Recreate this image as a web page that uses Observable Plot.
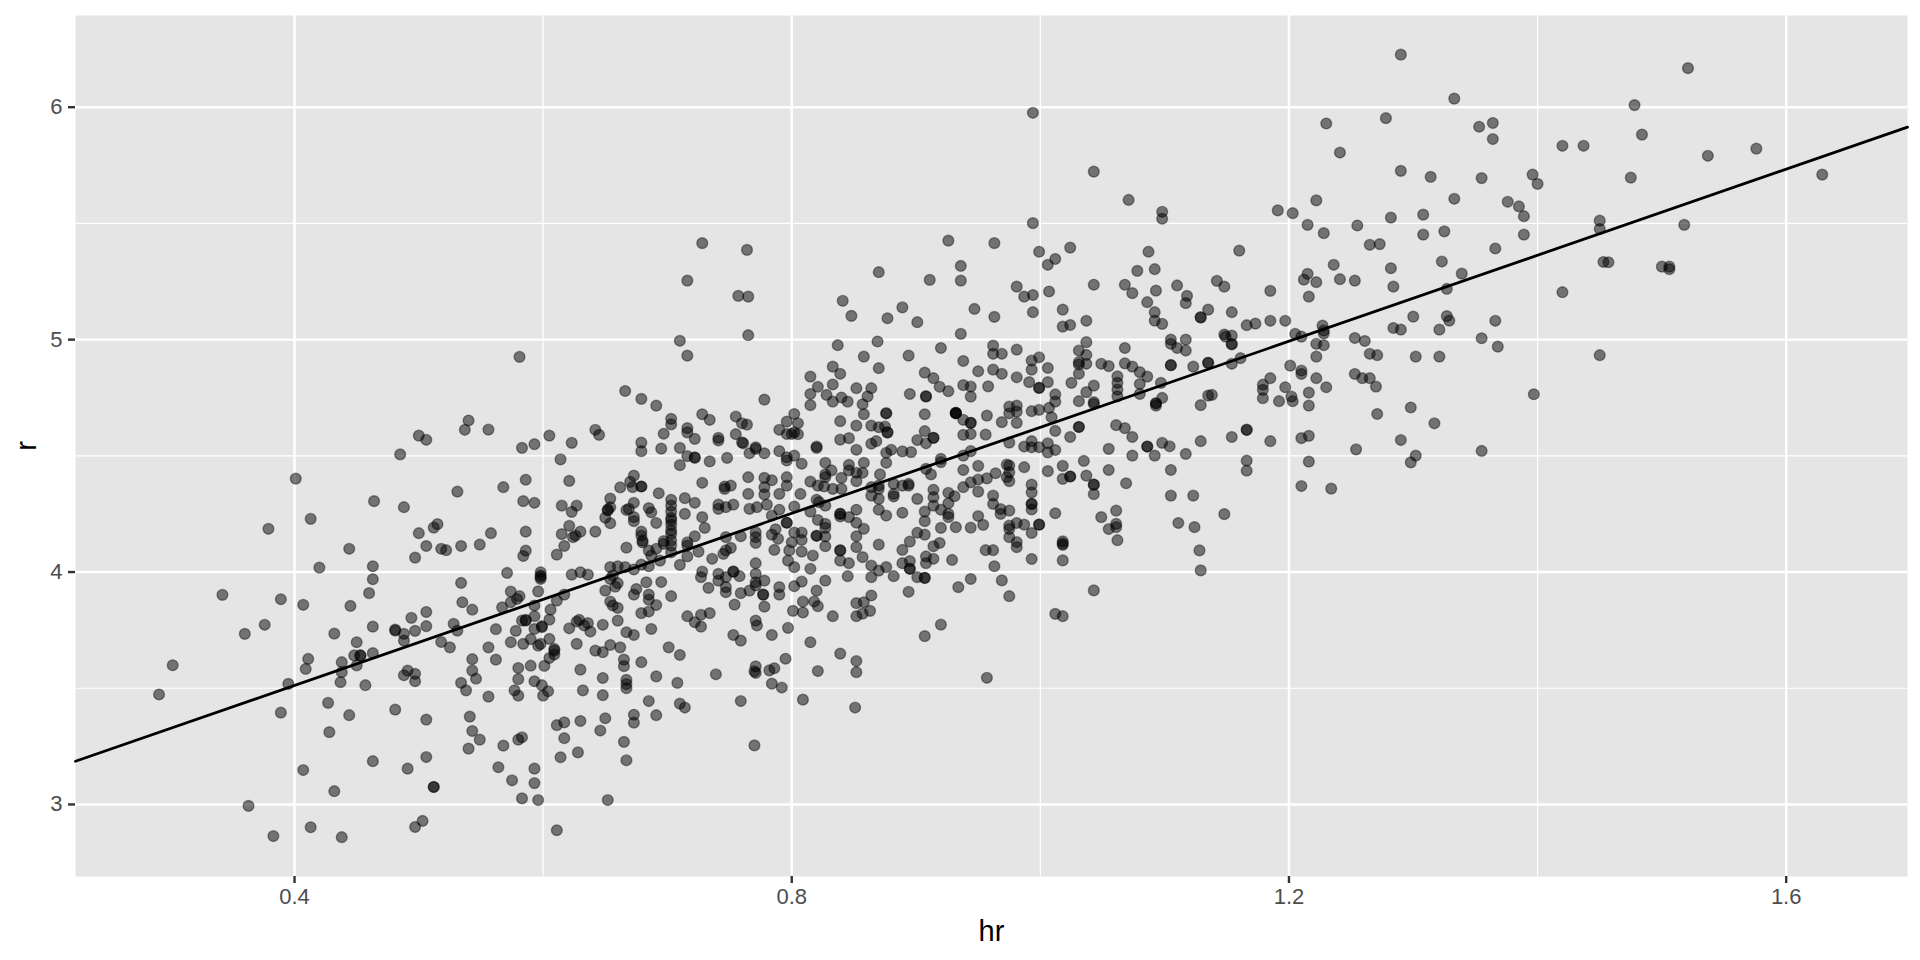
<!DOCTYPE html>
<html><head><meta charset="utf-8">
<script src="https://cdn.jsdelivr.net/npm/d3@7"></script>
<script src="https://cdn.jsdelivr.net/npm/@observablehq/plot@0.6"></script>
<style>html,body{margin:0;padding:0;background:#fff}svg{display:block}</style>
</head><body><div id="chart"></div>
<script>
const hrA=[.401,.413,.379,.444,.420,.464,.463,.463,.460,.342,.389,.407,.445,.463,.376,.360,.432,.450,.448,.453,.453,.463,.411,.450,.438,.409,.438,.302,.395,.437,.457,.291,.427,.389,.444,.428,.463,.407,.432,.363,.413,.383,.438];
const rA=[4.402,4.229,4.186,4.100,4.019,4.305,4.025,3.969,3.909,3.902,3.883,3.859,3.854,3.765,3.773,3.734,3.735,3.698,3.641,3.641,3.641,3.651,3.626,3.598,3.612,3.583,3.569,3.599,3.519,3.526,3.513,3.473,3.437,3.395,3.384,3.311,3.186,3.148,3.057,2.994,2.902,2.864,2.859];

const hrB=[.581,.666,.679,.691,.703,.703,.697,.679,.679,.695,.642,.645,.623,.605,.593,.583,.540,.537,.556,.500,.506,.485,.614,.586,.621,.568,.531,.673,.670,.662,.672,.679,.679,.693,.654,.488,.584,.593,.615,.627,.623,.654,.652,.652,.650,.654,.673,.667,.669,.685,.687,.673,.673,.691];
const rB=[4.926,4.779,4.745,4.716,4.659,4.635,4.595,4.557,4.520,4.531,4.612,4.590,4.556,4.587,4.550,4.534,4.652,4.612,4.613,4.587,4.569,4.506,4.485,4.397,4.392,4.365,4.346,4.415,4.388,4.364,4.365,4.368,4.368,4.339,4.316,4.279,4.305,4.298,4.286,4.286,4.259,4.279,4.269,4.265,4.234,4.210,4.298,4.267,4.272,4.275,4.257,4.236,4.219,4.211];

const hrC=[.515,.512,.500,.558,.586,.621,.615,.630,.624,.626,.642,.679,.679,.680,.680,.506,.518,.522,.534,.549,.586,.584,.497,.617,.611,.667,.685,.691,.687,.697,.694,.571,.598,.598,.598,.598,.623,.630,.636,.654,.660,.666,.673,.679,.685,.656,.654,.660,.658,.650,.683,.695,.675,.673,.685,.685,.703,.654,.656,.660,.691,.685,.679,.660,.687,.667,.673,.701];
const rC=[4.206,4.191,4.167,4.167,4.174,4.199,4.163,4.174,4.150,4.157,4.174,4.174,4.157,4.135,4.127,4.112,4.100,4.094,4.112,4.118,4.092,4.069,4.062,4.112,4.075,4.105,4.092,4.100,4.071,4.133,4.049,3.996,3.999,3.985,3.978,3.970,3.989,3.999,3.989,4.021,4.025,4.021,4.011,4.032,4.025,3.985,3.970,3.952,3.937,3.920,3.956,3.957,3.927,3.903,3.903,3.881,3.896,3.873,3.856,3.846,3.858,3.830,3.823,3.791,3.755,3.741,3.729,3.676];

const hrD=[.534,.574,.596,.581,.579,.574,.617,.611,.535,.543,.506,.494,.567,.593,.606,.593,.605,.583,.586,.586,.599,.599,.593,.528,.506,.481,.481,.488,.497,.531,.562,.578,.488,.518,.525,.556,.574,.584,.590,.596,.598,.605,.609,.627,.654,.662,.621,.627,.629,.633,.636,.638,.648];
const rD=[3.953,3.916,3.917,3.896,3.884,3.870,3.903,3.877,3.870,3.838,3.828,3.803,3.848,3.856,3.838,3.810,3.795,3.791,3.794,3.791,3.767,3.763,3.755,3.777,3.767,3.752,3.748,3.734,3.747,3.748,3.754,3.747,3.705,3.699,3.676,3.676,3.698,3.691,3.711,3.683,3.691,3.712,3.669,3.691,3.686,3.676,3.758,3.787,3.794,3.770,3.780,3.744,3.773];

const hrE=[.609,.609,.605,.601,.590,.580,.543,.562,.630,.642,.648,.665,.665,.679,.648,.667,.667,.667,.691,.543,.546,.534,.538,.491,.497,.488,.497,.580,.593,.599,.604,.577,.580,.600,.556,.632,.648,.685,.481,.506,.541,.543,.549,.540,.568,.580,.583,.611,.617,.630,.650,.673,.673,.691,.646,.617,.665,.628,.614,.667,.506,.491,.564,.593,.575,.593,.512,.512,.583,.596,.652,.503,.497,.611];
const rE=[3.662,3.645,3.630,3.596,3.597,3.587,3.625,3.623,3.580,3.662,3.655,3.623,3.595,3.612,3.544,3.536,3.518,3.500,3.551,3.576,3.541,3.523,3.491,3.576,3.562,3.556,3.530,3.539,3.530,3.513,3.487,3.491,3.468,3.468,3.464,3.491,3.470,3.445,3.408,3.365,3.378,3.316,3.279,3.240,3.253,3.279,3.289,3.341,3.353,3.359,3.371,3.386,3.352,3.384,3.318,3.285,3.269,3.224,3.203,3.190,3.204,3.154,3.160,3.154,3.104,3.092,3.075,3.075,3.026,3.019,3.019,2.929,2.903,2.889];

const hrF=[.728,.764,.716,.757,.765,.765,.710,.716,.926,.870,.911,.936,.936,.841,.848,.877,.889,.901,.936,.869,.837,.920,.858,.894,.833,.839,.870,.907,.914,.919,.926,.815,.821,.833,.852,.864,.815,.828,.840,.833,.845,.861,.857,.815,.895,.908,.908,.778,.858,.876,.876,.907,.932,.932,.728,.734,.716,.716,.722,.741,.741,.755,.760,.764,.755,.760,.802,.796,.805,.790,.796,.800,.802,.805,.839,.852,.864,.870,.875,.877,.877,.907,.914,.914,.901];
const rF=[5.415,5.386,5.254,5.188,5.185,5.019,4.995,4.931,5.426,5.290,5.257,5.317,5.254,5.167,5.102,5.092,5.139,5.075,5.025,4.992,4.976,4.964,4.927,4.931,4.884,4.853,4.877,4.858,4.834,4.797,4.778,4.841,4.797,4.807,4.791,4.791,4.766,4.762,4.751,4.733,4.733,4.756,4.722,4.718,4.766,4.756,4.756,4.742,4.679,4.683,4.683,4.679,4.683,4.683,4.679,4.655,4.619,4.601,4.573,4.577,4.566,4.669,4.640,4.634,4.593,4.558,4.680,4.647,4.640,4.612,4.594,4.594,4.601,4.593,4.649,4.630,4.630,4.623,4.626,4.601,4.601,4.606,4.577,4.577,4.568];

const hrG=[.703,.703,.703,.703,.703,.703,.703,.703,.703,.703,.703,.839,.846,.864,.868,.710,.761,.771,.771,.820,.820,.852,.908,.876,.880,.889,.896,.716,.722,.722,.748,.766,.778,.790,.796,.796,.802,.808,.734,.710,.876,.920,.920,.908,.912,.827,.846,.846,.858,.832,.827,.827,.840,.852,.852,.857,.871,.765,.796,.796,.778,.778,.778,.784,.815,.821,.826,.833,.840,.728,.746,.751,.746,.864,.870,.870,.864,.882,.882,.882,.889,.894,.894,.914,.914,.914,.926,.931,.926,.920,.926,.926,.907,.907,.889,.901,.870,.870,.876];
const rG=[4.311,4.286,4.260,4.233,4.222,4.203,4.179,4.164,4.136,4.114,4.085,4.570,4.576,4.552,4.563,4.534,4.554,4.537,4.530,4.540,4.534,4.526,4.554,4.513,4.526,4.519,4.516,4.499,4.491,4.494,4.491,4.511,4.511,4.520,4.494,4.480,4.501,4.466,4.476,4.460,4.470,4.487,4.473,4.444,4.420,4.470,4.461,4.437,4.470,4.437,4.420,4.408,4.405,4.427,4.391,4.427,4.420,4.408,4.408,4.372,4.405,4.365,4.334,4.395,4.389,4.372,4.368,4.358,4.358,4.384,4.368,4.372,4.358,4.365,4.372,4.358,4.329,4.379,4.336,4.325,4.372,4.379,4.372,4.354,4.322,4.286,4.341,4.326,4.296,4.268,4.250,4.236,4.260,4.219,4.255,4.315,4.315,4.268,4.243];

const hrH=[.714,.722,.714,.728,.730,.722,.716,.716,.725,.716,.710,.697,.741,.741,.747,.753,.765,.766,.772,.780,.790,.807,.802,.790,.784,.815,.820,.822,.827,.821,.839,.839,.839,.852,.846,.852,.858,.852,.852,.870,.857,.827,.827,.796,.796,.787,.784,.789,.802,.808,.808,.800,.771,.771,.771,.759,.747,.820,.820,.827,.827,.786,.798,.808,.817,.797,.802,.815,.751,.747,.745,.736,.771,.771,.753,.753,.728,.727,.741,.741,.747,.758,.778,.771,.771,.733,.747,.747,.759,.766,.777,.777,.790,.790,.802,.808,.827,.820];
const rH=[4.318,4.298,4.250,4.236,4.190,4.154,4.128,4.114,4.088,4.067,4.031,4.121,4.290,4.272,4.279,4.290,4.336,4.272,4.279,4.290,4.336,4.336,4.282,4.268,4.243,4.260,4.311,4.301,4.286,4.224,4.250,4.250,4.239,4.268,4.236,4.212,4.186,4.154,4.107,4.118,4.064,4.207,4.190,4.212,4.212,4.184,4.161,4.143,4.170,4.170,4.138,4.128,4.171,4.150,4.125,4.154,4.150,4.156,4.156,4.153,4.111,4.095,4.093,4.088,4.071,4.049,4.021,4.014,4.104,4.093,4.078,4.057,4.038,3.992,4.002,4.002,4.002,3.978,3.992,3.963,3.978,3.982,3.963,3.956,3.942,3.932,3.935,3.913,3.909,3.920,3.903,3.903,3.935,3.903,3.939,3.959,3.963,3.920];

const hrI=[.754,.778,.809,.818,.821,.801,.809,.833,.734,.727,.716,.722,.727,.771,.772,.797,.845,.864,.870,.864,.876,.882,.839,.839,.839,.846,.889,.895,.901,.907,.920,.932,.914,.919,.908,.914,.908,.929,.889,.895,.895,.895,.901,.907,.907,.894,.934,.864,.852,.858,.863,.857,.852,.920];
const rI=[3.860,3.851,3.873,3.873,3.853,3.833,3.826,3.810,3.823,3.816,3.810,3.784,3.765,3.791,3.770,3.760,3.982,4.028,4.006,3.978,4.021,3.982,4.093,4.093,4.049,4.038,4.095,4.131,4.169,4.161,4.190,4.193,4.111,4.125,4.067,4.057,4.038,4.052,4.038,4.047,4.014,4.014,3.978,3.975,3.975,3.915,3.935,3.899,3.866,3.870,3.833,3.821,3.810,3.774];

const hrJ=[.753,.759,.784,.815,.710,.839,.852,.852,.907,.795,.771,.770,.771,.782,.786,.739,.821,.708,.784,.792,.759,.809,.851,.710,.714,.770];
const rJ=[3.729,3.705,3.729,3.698,3.643,3.649,3.617,3.569,3.724,3.627,3.594,3.573,3.566,3.577,3.586,3.560,3.574,3.523,3.520,3.503,3.445,3.451,3.417,3.434,3.417,3.254];

const hrK=[.962,.962,.969,.981,.938,.993,.999,.993,1.006,.950,.962,.969,.981,.991,1.006,.999,.999,.938,.944,.958,.944,1.037,1.031,1.037,1.031,1.031,1.037,1.031,1.068,1.049,1.055,1.068,1.074,1.080,1.086,1.105,1.110,1.117,1.105,1.105,1.123,1.135,1.135,1.154,1.154,1.025,1.043,1.037,1.062,1.062,1.062,1.062,1.080,1.080,1.097,1.012,1.012,1.031,1.043,1.043,1.098,1.093,1.093,1.093,1.129,1.135,1.138];
const rK=[4.974,4.939,4.939,4.957,4.908,4.910,4.924,4.871,4.878,4.864,4.871,4.853,4.838,4.817,4.817,4.792,4.792,4.804,4.798,4.799,4.755,4.989,4.953,4.934,4.903,4.893,4.896,4.853,4.964,4.896,4.886,4.898,4.884,4.860,4.841,4.982,4.964,4.953,4.890,4.890,4.884,4.900,4.900,4.979,4.896,4.814,4.802,4.774,4.842,4.814,4.785,4.756,4.809,4.766,4.814,4.764,4.733,4.735,4.731,4.723,4.749,4.726,4.726,4.716,4.718,4.759,4.762];

const hrL=[.975,.975,.981,.981,.993,.999,1.007,1.009,.957,.932,.932,.938,.944,.944,.969,.981,.938,.944,.956,1.012,1.024,1.031,1.031,1.061,1.068,1.074,.975,.987,.993,.993,.999,1.006,1.006,1.012,.938,.944,1.055,1.074,1.086,1.086,1.092,1.098,1.104,1.117,1.129,1.154,1.166,1.166,1.166,.938,.950,.964,.973,.975,.975,.973,.975,.987,1.006,1.018,1.035,1.055,1.105,1.018,1.024,1.024,1.037,1.043,1.043,1.043,1.069,.944,.950,.957,.938,.950,.993,.993,.993,.993,.993,.962,.962,.968,.968,.975];
const rL=[4.712,4.683,4.716,4.690,4.692,4.698,4.706,4.666,4.673,4.685,4.685,4.655,4.642,4.642,4.645,4.642,4.590,4.594,4.591,4.607,4.581,4.624,4.624,4.632,4.619,4.581,4.557,4.540,4.563,4.537,4.537,4.554,4.515,4.525,4.501,4.520,4.530,4.501,4.540,4.540,4.501,4.556,4.541,4.508,4.563,4.581,4.613,4.479,4.436,4.439,4.457,4.425,4.462,4.458,4.429,4.408,4.391,4.451,4.434,4.457,4.478,4.439,4.439,4.401,4.411,4.411,4.415,4.376,4.376,4.335,4.382,4.386,4.398,4.403,4.365,4.346,4.376,4.343,4.293,4.293,4.269,4.329,4.293,4.271,4.250,4.264];

const hrM=[1.012,.950,1.105,1.123,1.148,1.111,1.124,1.049,1.061,1.061,1.061,1.055,.944,.954,.975,.975,.981,.987,.993,.999,.999,.975,.981,.981,1.018,1.018,1.018,1.062,.956,.962,.963,.993,1.018,1.128,1.129,.944,.969,.975,1.043,1.012,1.018,.957];
const rM=[4.253,4.241,4.329,4.329,4.249,4.211,4.193,4.236,4.264,4.207,4.193,4.185,4.191,4.203,4.200,4.185,4.211,4.204,4.168,4.204,4.204,4.150,4.129,4.107,4.132,4.122,4.117,4.137,4.094,4.094,4.025,4.056,4.050,4.093,4.007,3.970,3.964,3.896,3.921,3.820,3.810,3.545];

const hrN=[.994,1.043,1.071,1.098,1.098,.994,.963,.999,1.012,1.006,1.024,1.087,1.160,1.092,1.078,.981,.987,.994,1.007,1.043,1.068,1.074,1.093,1.110,1.086,1.142,1.148,1.118,1.117,.947,.963,.994,1.018,1.018,1.024,1.037,1.092,1.092,1.098,1.135,1.129,1.129,1.154,1.166,1.148,1.149,1.154,1.154,1.105,1.117];
const rN=[5.976,5.723,5.601,5.550,5.520,5.501,5.415,5.378,5.347,5.322,5.396,5.378,5.383,5.303,5.296,5.228,5.185,5.192,5.207,5.236,5.236,5.200,5.211,5.233,5.161,5.253,5.228,5.188,5.157,5.132,5.098,5.118,5.129,5.056,5.063,5.081,5.118,5.082,5.068,5.129,5.096,5.096,5.118,5.062,5.022,5.013,5.017,4.982,5.000,5.000];

const hrO=[1.222,1.191,1.203,1.215,1.228,1.255,1.282,1.308,1.333,1.376,1.385,1.389,1.325,1.308,1.389,1.265,1.273,1.366,1.323,1.236,1.282,1.339,1.215,1.212,1.222,1.241,1.253,1.284,1.327,1.185,1.216,1.173,1.185,1.197,1.300,1.327,1.329,1.366,1.227,1.228,1.228,1.205,1.210,1.284,1.290,1.321,1.222,1.228,1.253,1.261,1.355,1.368,1.265,1.271,1.222,1.302,1.321,1.161,1.201,1.210,1.210,1.185,1.222,1.253,1.259,1.265,1.270,1.230,1.197,1.179,1.179,1.179,1.216,1.202,1.203,1.192,1.216,1.397,1.298,1.271,1.317,1.166,1.185,1.210,1.216,1.290,1.254,1.355,1.302,1.298,1.216,1.210,1.234];
const rO=[5.599,5.556,5.544,5.494,5.458,5.491,5.525,5.538,5.606,5.593,5.573,5.531,5.466,5.452,5.452,5.408,5.411,5.392,5.336,5.322,5.307,5.284,5.283,5.258,5.247,5.260,5.254,5.228,5.218,5.210,5.185,5.069,5.081,5.081,5.099,5.101,5.082,5.081,5.060,5.039,5.027,5.025,5.013,5.050,5.043,5.043,4.982,4.976,5.007,4.994,5.006,4.970,4.939,4.933,4.927,4.927,4.927,4.920,4.888,4.867,4.852,4.834,4.834,4.852,4.834,4.834,4.798,4.795,4.795,4.806,4.784,4.748,4.772,4.755,4.735,4.735,4.716,4.765,4.708,4.680,4.640,4.611,4.563,4.576,4.586,4.568,4.528,4.521,4.501,4.472,4.475,4.370,4.359];

const hrP=[1.521,1.478,1.484,1.420,1.437,1.537,1.576,1.629,1.396,1.400,1.475,1.450,1.450,1.518,1.453,1.457,1.500,1.506,1.506,1.420,1.450,1.290,1.333,1.230,1.353,1.364,1.364,1.278,1.241,1.290,1.314,1.355];
const rP=[6.168,6.009,5.882,5.834,5.834,5.791,5.822,5.710,5.710,5.670,5.697,5.512,5.476,5.494,5.334,5.333,5.314,5.314,5.303,5.204,4.933,6.226,6.037,5.930,5.916,5.932,5.863,5.953,5.805,5.726,5.700,5.695];

const hrAll=[hrA,hrB,hrC,hrD,hrE,hrF,hrG,hrH,hrI,hrJ,hrK,hrL,hrM,hrN,hrO,hrP];
const rAll=[rA,rB,rC,rD,rE,rF,rG,rH,rI,rJ,rK,rL,rM,rN,rO,rP];
const points=[];
hrAll.forEach((xs,i)=>{
  xs.forEach((hr,j)=>{ if(rAll[i][j]!==undefined) points.push({hr,r:rAll[i][j]}); });
});

const fitHr=[.2238,1.6976];
const fitR=[3.186,5.914];
const fit=fitHr.map((hr,i)=>({hr,r:fitR[i]}));
const xMajor=[.4,.8,1.2,1.6], xMinor=[.6,1.0,1.4];
const yMajor=[3,4,5,6], yMinor=[3.5,4.5,5.5];

const chart=Plot.plot({
  width:1920,height:960,
  marginLeft:75,marginRight:13,marginTop:15,marginBottom:84,
  style:{background:"#fff",fontFamily:"'Liberation Sans',Arial,sans-serif"},
  x:{domain:[.2238,1.6976]},
  y:{domain:[2.690,6.3946]},
  marks:[
    Plot.frame({fill:"#e5e5e5",stroke:null}),
    Plot.gridX(xMinor,{stroke:"#fff",strokeOpacity:1,strokeWidth:1.2}),
    Plot.gridY(yMinor,{stroke:"#fff",strokeOpacity:1,strokeWidth:1.2}),
    Plot.gridX(xMajor,{stroke:"#fff",strokeOpacity:1,strokeWidth:2.4}),
    Plot.gridY(yMajor,{stroke:"#fff",strokeOpacity:1,strokeWidth:2.4}),
    Plot.dot(points,{x:"hr",y:"r",r:5.4,fill:"#000",fillOpacity:.5,stroke:"#000",strokeOpacity:.4,strokeWidth:1.4}),
    Plot.line(fit,{x:"hr",y:"r",stroke:"#000",strokeWidth:2.8}),
    Plot.axisX(xMajor,{tickSize:7,tickPadding:5,fontSize:22,stroke:"#333",strokeWidth:2.4,fill:"#4d4d4d",tickFormat:d3.format(".1f"),label:"hr",labelArrow:"none",labelAnchor:"center",labelOffset:64}),
    Plot.axisY(yMajor,{tickSize:7,tickPadding:6,fontSize:22,stroke:"#333",strokeWidth:2.4,fill:"#4d4d4d",tickFormat:d3.format("d"),label:"r",labelArrow:"none",labelAnchor:"center",labelOffset:60})
  ]
});
document.getElementById("chart").appendChild(chart);
chart.querySelectorAll('g[aria-label="x-axis label"] text, g[aria-label="y-axis label"] text').forEach(t=>{t.setAttribute("font-size","29");t.setAttribute("fill","#000");t.style.fill="#000";});
</script></body></html>
